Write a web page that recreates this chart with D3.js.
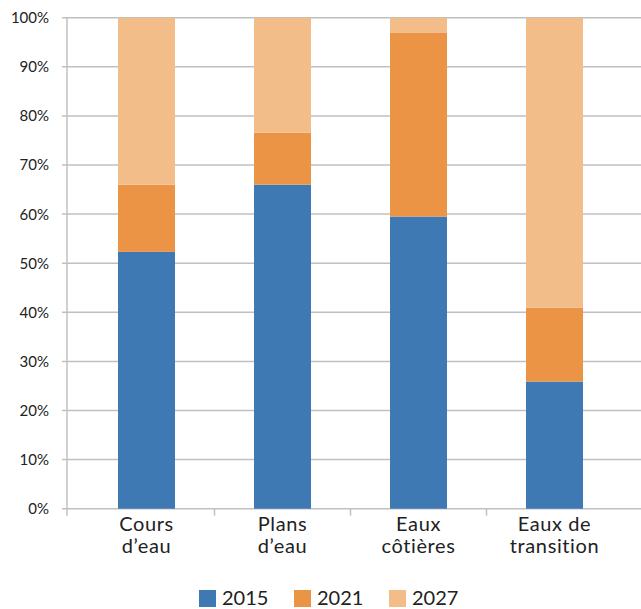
<!DOCTYPE html>
<html><head><meta charset="utf-8">
<script src="https://cdn.jsdelivr.net/npm/d3@7"></script>
<style>body{margin:0;background:#fff}svg{display:block;font-family:Lato,"Noto Sans",sans-serif}</style>
</head><body>
<svg id="c" width="641" height="609"></svg>
<script>
const categories = [["Cours","d’eau"],["Plans","d’eau"],["Eaux","côtières"],["Eaux de","transition"]];
const seriesNames = ["2015","2021","2027"];
const v2015 = [52.3, 66.0, 59.5, 25.9];
const v2021 = [13.7, 10.6, 37.5, 15.0];
const v2027 = [34.0, 23.4, 3.0, 59.1];
const yTicks = [0,10,20,30,40,50,60,70,80,90,100];
const colors = ["#3f79b3","#ec9446","#f3bd8a"];

const svg = d3.select("#c");
const cats = categories.map(c=>c.join(" "));
const rows = cats.map((c,i)=>({cat:c, "2015":v2015[i], "2021":v2021[i], "2027":v2027[i]}));
const stack = d3.stack().keys(seriesNames)(rows);

const y = d3.scaleLinear().domain([0,100]).range([508.7,17.7]);
const x = d3.scaleBand().domain(cats).range([78.5,622.5]).paddingInner(0.581).paddingOuter(0.2905);
const axisX = 67, rightX = 641;
const step = x.step();

svg.append("g").selectAll("line").data(yTicks).join("line")
  .attr("x1",62).attr("x2",rightX).attr("y1",d=>y(d)).attr("y2",d=>y(d))
  .attr("stroke","#c0c0c0").attr("stroke-width",1.5);
svg.append("line").attr("x1",axisX).attr("x2",axisX).attr("y1",y(100)).attr("y2",y(0)+7)
  .attr("stroke","#c0c0c0").attr("stroke-width",1.5);
const bounds = cats.slice(1).map(c=>x(c)-(step-x.bandwidth())/2);
svg.append("g").selectAll("line").data(bounds).join("line")
  .attr("x1",d=>d).attr("x2",d=>d).attr("y1",y(0)).attr("y2",y(0)+7)
  .attr("stroke","#c0c0c0").attr("stroke-width",1.5);

svg.append("g").selectAll("text").data(yTicks).join("text")
  .attr("x",49).attr("y",d=>y(d)).attr("dy","0.36em").attr("text-anchor","end")
  .attr("font-size",15).attr("fill","#222").text(d=>d+"%");

svg.append("g").selectAll("g").data(stack).join("g").attr("fill",(d,i)=>colors[i])
  .selectAll("rect").data(d=>d).join("rect")
  .attr("x",d=>x(d.data.cat)).attr("width",x.bandwidth())
  .attr("y",d=>y(d[1])).attr("height",d=>y(d[0])-y(d[1]));

const cl = svg.append("g").selectAll("text").data(categories).join("text")
  .attr("text-anchor","middle").attr("font-size",20).attr("letter-spacing","0.6px").attr("fill","#222")
  .attr("transform",(d,i)=>`translate(${x(cats[i])+x.bandwidth()/2},0)`);
cl.selectAll("tspan").data(d=>d).join("tspan").attr("x",0)
  .attr("y",(d,i)=>531+i*22).text(d=>d);

const legX = [199,294,389];
const lg = svg.append("g").selectAll("g").data(seriesNames).join("g")
  .attr("transform",(d,i)=>`translate(${legX[i]},590)`);
lg.append("rect").attr("width",17).attr("height",17).attr("fill",(d,i)=>colors[i]);
lg.append("text").attr("x",23).attr("y",15).attr("font-size",20).attr("fill","#222").text(d=>d);
</script>
</body></html>
